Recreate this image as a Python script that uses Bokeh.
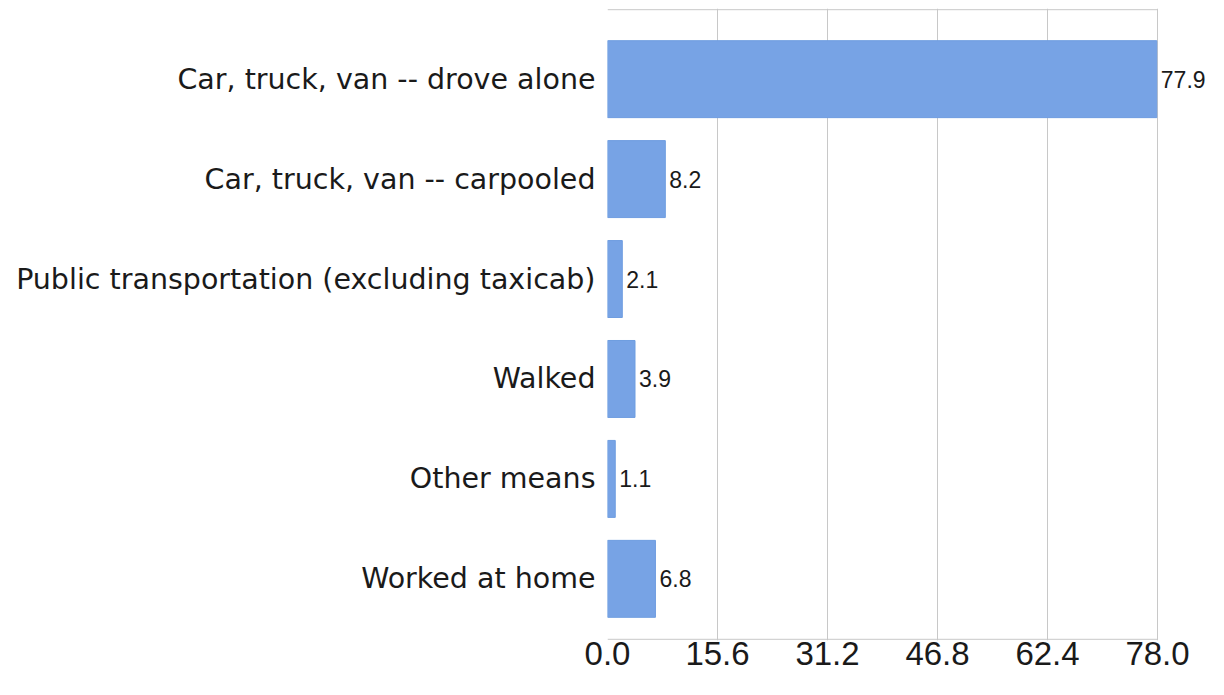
from bokeh.plotting import figure
from bokeh.models import Range1d, FixedTicker, ColumnDataSource, NumeralTickFormatter, Label
from bokeh.embed import file_html
from bokeh.resources import INLINE

categories = [
    "Car, truck, van -- drove alone",
    "Car, truck, van -- carpooled",
    "Public transportation (excluding taxicab)",
    "Walked",
    "Other means",
    "Worked at home",
]
values = [77.9, 8.2, 2.1, 3.9, 1.1, 6.8]
x_ticks = [0.0, 15.6, 31.2, 46.8, 62.4, 78.0]

n = len(categories)
ypos = [n - 1 - i for i in range(n)]
labels = ["%.1f" % v for v in values]

src = ColumnDataSource(dict(y=ypos, v=values, lab=labels, cat=categories))

W, H = 1208, 679
LEFT, BOX_W = 607, 550
FRAME_W = W - LEFT
x_min, x_max = x_ticks[0], x_ticks[-1]
x_view_end = x_max * FRAME_W / BOX_W          # extra room so the 77.9 label is not clipped
y_lo, y_hi = -0.605, n - 1 + 0.695            # extent of the bordered plot box
pad = 0.012

p = figure(width=W, height=H, output_backend="svg", toolbar_location=None,
           x_range=Range1d(x_min, x_view_end), y_range=Range1d(y_lo - pad, y_hi + pad),
           min_border_left=LEFT, min_border_right=0, min_border_top=8,
           min_border_bottom=39)
p.background_fill_color = "white"
p.border_fill_color = "white"
p.outline_line_color = None

# box border (top / bottom); vertical borders come from the grid lines at 0 and 78
p.segment(x0=[x_min, x_min], x1=[x_max, x_max], y0=[y_lo, y_hi], y1=[y_lo, y_hi],
          line_color="#c8c8c8", line_width=1)

p.hbar(y="y", left=0, right="v", height=0.77, source=src,
       fill_color="#77a3e5", line_color="#6f9de0", line_width=1)

for yv, v, lab in zip(ypos, values, labels):
    p.add_layout(Label(x=v, y=yv, text=lab, x_offset=4,
                       text_baseline="middle", text_align="left",
                       text_font="Liberation Sans", text_font_size="23px",
                       text_color="#1a1a1a"))

p.xgrid.ticker = FixedTicker(ticks=x_ticks)
p.xgrid.grid_line_color = "#c8c8c8"
p.xgrid.bounds = (y_lo, y_hi)
p.ygrid.grid_line_color = None

xa = p.xaxis[0]
xa.ticker = FixedTicker(ticks=x_ticks)
xa.formatter = NumeralTickFormatter(format="0.0")
xa.axis_line_color = None
xa.major_tick_line_color = None
xa.minor_tick_line_color = None
xa.major_tick_out = 0
xa.major_tick_in = 0
xa.major_label_standoff = 1
xa.major_label_text_font = "Liberation Sans"
xa.major_label_text_font_size = "33px"
xa.major_label_text_color = "#1a1a1a"

ya = p.yaxis[0]
ya.ticker = FixedTicker(ticks=ypos)
ya.major_label_overrides = {y: c for y, c in zip(ypos, categories)}
ya.axis_line_color = None
ya.major_tick_line_color = None
ya.minor_tick_line_color = None
ya.major_tick_out = 0
ya.major_tick_in = 0
ya.major_label_standoff = 12
ya.major_label_text_font = "DejaVu Sans"
ya.major_label_text_font_size = "28.5px"
ya.major_label_text_color = "#1a1a1a"

open("out.html", "w").write(file_html(p, INLINE))
